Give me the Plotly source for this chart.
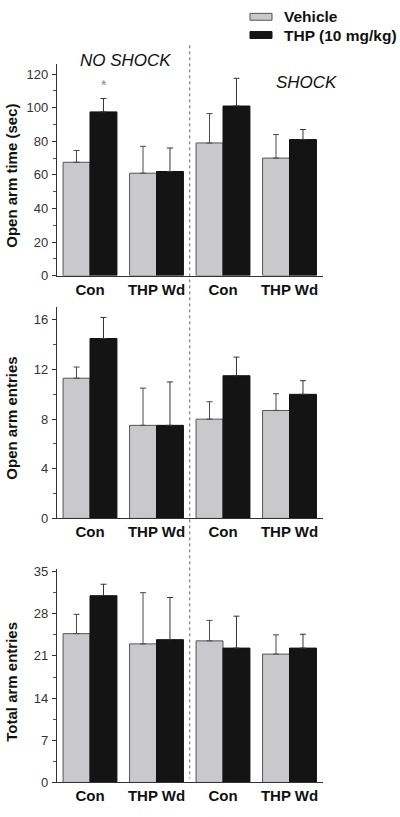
import plotly.graph_objects as go

categories = ["Con", "THP Wd", "Con", "THP Wd"]
x_pos = [0, 1, 2, 3]

# Panel 1: Open arm time (sec)
time_vehicle = [67.5, 61.0, 79.0, 70.0]
time_vehicle_err = [7.0, 16.0, 17.5, 14.0]
time_thp = [97.5, 62.0, 101.0, 81.0]
time_thp_err = [8.0, 14.0, 16.5, 6.0]

# Panel 2: Open arm entries
oae_vehicle = [11.3, 7.5, 8.0, 8.7]
oae_vehicle_err = [0.9, 3.0, 1.4, 1.35]
oae_thp = [14.5, 7.5, 11.5, 10.0]
oae_thp_err = [1.7, 3.5, 1.5, 1.1]

# Panel 3: Total arm entries
tae_vehicle = [24.7, 23.0, 23.5, 21.3]
tae_vehicle_err = [3.2, 8.5, 3.4, 3.2]
tae_thp = [31.0, 23.7, 22.3, 22.3]
tae_thp_err = [1.9, 7.0, 5.3, 2.3]

panels = [
    ("Open arm time (sec)", time_vehicle, time_vehicle_err, time_thp, time_thp_err, [0, 126], [0, 20, 40, 60, 80, 100, 120], 10),
    ("Open arm entries", oae_vehicle, oae_vehicle_err, oae_thp, oae_thp_err, [0, 17.03], [0, 4, 8, 12, 16], 2),
    ("Total arm entries", tae_vehicle, tae_vehicle_err, tae_thp, tae_thp_err, [0, 35.4], [0, 7, 14, 21, 28, 35], 3.5),
]

H = 817.0
W = 400.0
# pixel rows (top, bottom) for each panel
rows_px = [(60, 275), (307, 521.7), (573.3, 790)]

VEH_COLOR = "#c9c9cb"
THP_COLOR = "#141414"
FONT = "Liberation Sans, Arial, sans-serif"

fig = go.Figure()
layout = dict(
    width=400, height=817, autosize=False,
    margin=dict(l=0, r=0, t=0, b=0),
    paper_bgcolor="white", plot_bgcolor="white",
    barmode="group", bargap=0.19, bargroupgap=0.0,
    showlegend=False,
    font=dict(family=FONT, color="#222"),
)

annotations = []
shapes = []
xdom = [56.75 / W, 322.75 / W]

for i, (title, veh, veh_err, thp, thp_err, yr, ticks, minor) in enumerate(panels):
    n = i + 1
    xa = "x" if n == 1 else f"x{n}"
    ya = "y" if n == 1 else f"y{n}"
    fig.add_trace(go.Bar(
        x=x_pos, y=veh, name="Vehicle", xaxis=xa, yaxis=ya,
        marker=dict(color=VEH_COLOR, line=dict(color="#555555", width=1)),
        error_y=dict(type="data", symmetric=False, array=veh_err,
                     arrayminus=[0] * len(veh), color="#4a4a4a", thickness=1, width=3),
    ))
    fig.add_trace(go.Bar(
        x=x_pos, y=thp, name="THP (10 mg/kg)", xaxis=xa, yaxis=ya,
        marker=dict(color=THP_COLOR, line=dict(color="#111111", width=1)),
        error_y=dict(type="data", symmetric=False, array=thp_err,
                     arrayminus=[0] * len(thp), color="#333333", thickness=1, width=3),
    ))
    top, bot = rows_px[i]
    ydom = [1 - bot / H, 1 - top / H]
    xkey = "xaxis" if n == 1 else f"xaxis{n}"
    ykey = "yaxis" if n == 1 else f"yaxis{n}"
    layout[xkey] = dict(
        domain=xdom, range=[-0.5, 3.5], anchor=ya,
        tickvals=x_pos, ticktext=categories, ticks="", ticklen=0,
        showline=True, linecolor="#333", linewidth=1, showgrid=False, zeroline=False,
        tickfont=dict(family=FONT, size=15, color="#111", weight="bold"),
        ticklabelstandoff=0, fixedrange=True,
    )
    layout[ykey] = dict(
        domain=ydom, range=yr, anchor=xa,
        tickvals=ticks, ticks="outside", ticklen=4, tickcolor="#333", tickwidth=1,
        minor=dict(dtick=minor, tick0=0, ticks="outside", ticklen=3, tickcolor="#555", showgrid=False),
        showline=True, linecolor="#333", linewidth=1, showgrid=False, zeroline=False,
        tickfont=dict(family=FONT, size=13, color="#333"),
        ticklabelstandoff=1, fixedrange=True,
    )
    annotations.append(dict(
        text=title, textangle=-90, xref="paper", yref="paper",
        x=12 / W, y=1 - ((top + bot) / 2 + 6) / H, showarrow=False,
        xanchor="center", yanchor="middle",
        font=dict(family=FONT, size=15, color="#111", weight="bold"),
    ))

# significance star
annotations.append(dict(
    text="*", x=x_pos[0], y=time_thp[0] + time_thp_err[0], xref="x", yref="y",
    xshift=13.5, yshift=3, yanchor="bottom", showarrow=False,
    font=dict(family=FONT, size=14, color="#888"),
))

# group labels
annotations.append(dict(
    text="<i>NO SHOCK</i>", xref="paper", yref="paper", x=125 / W, y=1 - 56 / H,
    showarrow=False, xanchor="center", yanchor="middle",
    font=dict(family=FONT, size=17, color="#111"),
))
annotations.append(dict(
    text="<i>SHOCK</i>", xref="paper", yref="paper", x=306 / W, y=1 - 79 / H,
    showarrow=False, xanchor="center", yanchor="middle",
    font=dict(family=FONT, size=17, color="#111"),
))

# dotted divider between NO SHOCK and SHOCK
shapes.append(dict(
    type="line", xref="x", yref="paper", x0=1.5, x1=1.5,
    y0=1 - 41 / H, y1=1 - 786 / H,
    line=dict(color="#666", width=1, dash="dot"),
))

# legend (manual)
legend_items = [("Vehicle", VEH_COLOR, "#555", 12), ("THP (10 mg/kg)", THP_COLOR, "#111", 30.5)]
for label, fill, edge, cy in legend_items:
    shapes.append(dict(
        type="rect", xref="paper", yref="paper",
        x0=250 / W, x1=272 / W, y0=1 - (cy + 3.5) / H, y1=1 - (cy - 3.5) / H,
        fillcolor=fill, line=dict(color=edge, width=1),
    ))
    annotations.append(dict(
        text=label, xref="paper", yref="paper", x=282 / W, y=1 - cy / H,
        showarrow=False, xanchor="left", yanchor="middle",
        font=dict(family=FONT, size=15.5, color="#111", weight="bold"),
    ))

layout["annotations"] = annotations
layout["shapes"] = shapes
fig.update_layout(**layout)
fig.write_html(
    "out.html",
    config={"displayModeBar": False, "staticPlot": True},
    post_script="document.body.style.margin='0';document.body.style.overflow='hidden';",
)
